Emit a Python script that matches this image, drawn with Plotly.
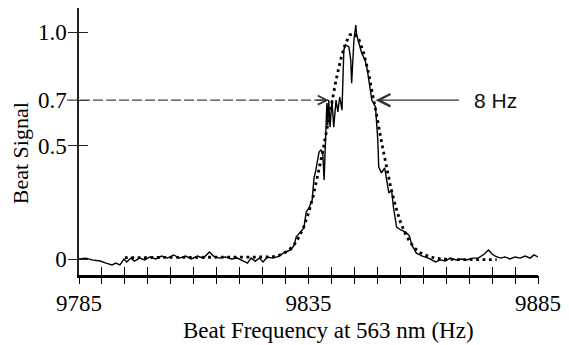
import plotly.graph_objects as go

# ---- data ----
freq_meas = [9785.0, 9786.5, 9787.8, 9789.6, 9790.9, 9792.2, 9793.0, 9793.9, 9794.8, 9795.4,
             9796.3, 9797.1, 9798.2, 9799.3, 9800.4, 9801.7, 9803.0, 9804.3, 9805.6, 9806.9,
             9808.2, 9809.5, 9810.8, 9812.1, 9813.4, 9814.3, 9815.6, 9816.9, 9818.2, 9819.5,
             9820.8, 9821.7, 9822.5, 9823.4, 9824.3, 9825.1, 9826.0, 9827.3, 9828.6, 9829.9,
             9831.2, 9831.9, 9832.3, 9833.2, 9834.0, 9834.5, 9835.1, 9835.8, 9836.2, 9836.6,
             9837.3, 9837.7, 9838.1, 9838.4, 9838.6, 9838.8, 9839.0, 9839.2, 9839.4, 9839.7,
             9840.1, 9840.5, 9841.0, 9841.4, 9841.8, 9842.3, 9842.7, 9843.1, 9843.8, 9844.2,
             9844.4, 9844.9, 9845.3, 9845.5, 9846.0, 9846.6, 9847.3, 9847.7, 9848.3, 9848.8,
             9849.6, 9850.1, 9850.3, 9850.9, 9851.6, 9852.0, 9852.5, 9853.1, 9853.5, 9854.2,
             9855.1, 9856.2, 9857.0, 9857.5, 9858.5, 9859.8, 9861.1, 9862.7, 9863.7, 9864.8,
             9865.9, 9867.2, 9868.3, 9869.4, 9870.7, 9872.0, 9873.3, 9874.2, 9875.0, 9875.7,
             9876.8, 9877.8, 9878.9, 9880.0, 9881.1, 9882.2, 9883.3, 9884.1, 9885.0]
signal_meas = [0.000, 0.004, -0.004, -0.009, -0.018, -0.026, -0.018, -0.026, 0.000, -0.013,
               0.004, -0.009, 0.004, -0.004, 0.009, 0.000, 0.013, 0.004, 0.018, 0.004,
               0.013, 0.000, 0.013, 0.004, 0.031, 0.013, 0.004, 0.009, 0.000, 0.004,
               -0.009, -0.018, 0.004, -0.009, 0.004, -0.013, 0.009, 0.004, 0.013, 0.031,
               0.040, 0.062, 0.097, 0.119, 0.137, 0.207, 0.225, 0.260, 0.357, 0.392,
               0.471, 0.480, 0.471, 0.348, 0.480, 0.524, 0.687, 0.590, 0.700, 0.581,
               0.700, 0.581, 0.700, 0.648, 0.714, 0.656, 0.921, 0.943, 0.934, 0.877,
               0.775, 0.965, 1.031, 0.987, 0.952, 0.907, 0.877, 0.846, 0.767, 0.700,
               0.670, 0.524, 0.405, 0.379, 0.401, 0.357, 0.291, 0.304, 0.229, 0.141,
               0.128, 0.119, 0.101, 0.062, 0.026, 0.013, 0.004, -0.013, -0.004, -0.009,
               0.004, -0.004, 0.000, -0.004, 0.004, 0.004, 0.022, 0.040, 0.022, 0.013,
               0.004, 0.009, 0.000, 0.009, 0.004, 0.013, 0.004, 0.018, 0.009]

freq_fit = [9795, 9797, 9799, 9801, 9803, 9805, 9807, 9809, 9811, 9813, 9815, 9817, 9819,
            9821, 9823, 9825, 9827, 9828, 9829, 9830, 9831, 9832, 9833, 9834, 9835, 9836,
            9837, 9838, 9839, 9840, 9841, 9842, 9843, 9844, 9845, 9846, 9847, 9848, 9849,
            9850, 9851, 9852, 9853, 9854, 9855, 9856, 9857, 9858, 9859, 9860, 9861, 9862,
            9864, 9866, 9868, 9870, 9872, 9874, 9876]
signal_fit = [0.006, 0.006, 0.006, 0.006, 0.006, 0.006, 0.006, 0.006, 0.006, 0.006, 0.006,
              0.006, 0.006, 0.006, 0.006, 0.007, 0.009, 0.013, 0.019, 0.029, 0.045, 0.067,
              0.100, 0.143, 0.202, 0.275, 0.363, 0.463, 0.572, 0.683, 0.788, 0.878, 0.947,
              0.987, 0.993, 0.966, 0.909, 0.827, 0.726, 0.617, 0.506, 0.402, 0.308, 0.229,
              0.165, 0.115, 0.078, 0.051, 0.032, 0.020, 0.012, 0.007, 0.000, -0.003, -0.003,
              -0.003, -0.003, -0.003, -0.003]

x_tick_vals = [9785, 9790, 9795, 9800, 9805, 9810, 9815, 9820, 9825, 9830, 9835,
               9840, 9845, 9850, 9855, 9860, 9865, 9870, 9875, 9880, 9885]
x_tick_text = ["9785", "", "", "", "", "", "", "", "", "", "9835",
               "", "", "", "", "", "", "", "", "", "9885"]
y_tick_vals = [0, 0.5, 0.7, 1.0]
y_tick_text = ["0", "0.5", "0.7", "1.0"]
y_cross_ticks = [0, 0.5, 1.0]

x_range = [9785, 9885]
y_range = [-0.0705, 1.106]

level_07 = 0.7
left_arrow_tip = 9839.4
right_arrow_tip = 9849.6
right_arrow_tail = 9868.1
label_x = 9870.6
label_text = "8 Hz"

serif = "Liberation Serif"
sans = "Liberation Sans"

fig = go.Figure()
fig.add_trace(go.Scatter(x=freq_fit, y=signal_fit, mode="lines",
                         line=dict(color="black", width=2.8, dash="2.8px,3.6px"),
                         hoverinfo="skip", showlegend=False))
fig.add_trace(go.Scatter(x=freq_meas, y=signal_meas, mode="lines",
                         line=dict(color="black", width=1.4),
                         hoverinfo="skip", showlegend=False))
# empty trace to carry the overlay axes (outer half of ticks that cross the axis lines)
fig.add_trace(go.Scatter(x=[], y=[], xaxis="x2", yaxis="y2", showlegend=False))

fig.update_layout(
    width=569, height=345,
    margin=dict(l=79, r=29, t=8, b=70),
    paper_bgcolor="white", plot_bgcolor="white",
    xaxis=dict(range=x_range, showline=True, linewidth=3, linecolor="black",
               ticks="inside", ticklen=8, tickwidth=1.3, tickcolor="black",
               tickvals=x_tick_vals, ticktext=x_tick_text, ticklabelstandoff=5,
               tickfont=dict(family=serif, size=23, color="black"),
               showgrid=False, zeroline=False),
    yaxis=dict(range=y_range, showline=True, linewidth=1.5, linecolor="#222",
               ticks="inside", ticklen=9, tickwidth=1.3, tickcolor="#222",
               tickvals=y_tick_vals, ticktext=y_tick_text, ticklabelstandoff=6,
               tickfont=dict(family=serif, size=23, color="black"),
               showgrid=False, zeroline=False),
    xaxis2=dict(range=x_range, overlaying="x", anchor="y2", side="bottom",
                ticks="outside", ticklen=8, tickwidth=1.3, tickcolor="black",
                tickvals=x_tick_vals, showticklabels=False,
                showline=False, showgrid=False, zeroline=False),
    yaxis2=dict(range=y_range, overlaying="y", anchor="x2", side="left",
                ticks="outside", ticklen=10, tickwidth=1.3, tickcolor="#222",
                tickvals=y_cross_ticks, showticklabels=False,
                showline=False, showgrid=False, zeroline=False),
)

# dashed line at the 0.7 level from the tick label to the left flank
y07_paper = (level_07 - y_range[0]) / (y_range[1] - y_range[0])
tip_paper = (left_arrow_tip - x_range[0]) / (x_range[1] - x_range[0])
fig.add_shape(type="line", xref="paper", yref="paper",
              x0=-0.026, x1=tip_paper, y0=y07_paper, y1=y07_paper,
              line=dict(color="#444", width=1.1, dash="10px,3px"))

fig.add_annotation(x=left_arrow_tip, y=level_07, xref="x", yref="y",
                   ax=-14, ay=0, text="", showarrow=True, arrowhead=5,
                   arrowsize=1.6, arrowwidth=1.1, arrowcolor="#333", standoff=0)
fig.add_annotation(x=right_arrow_tip, y=level_07, xref="x", yref="y",
                   ax=right_arrow_tail, ay=level_07, axref="x", ayref="y",
                   text="", showarrow=True, arrowhead=5,
                   arrowsize=2.2, arrowwidth=1.1, arrowcolor="#333", standoff=0)
fig.add_annotation(x=label_x, y=level_07, xref="x", yref="y", text=label_text,
                   showarrow=False, xanchor="left", yanchor="middle",
                   font=dict(family=sans, size=21, color="#111"))

fig.add_annotation(x=(20 - 79) / 461, y=(275 - 153) / 267, xref="paper", yref="paper",
                   text="Beat Signal", textangle=-90, showarrow=False,
                   xanchor="center", yanchor="middle",
                   font=dict(family=serif, size=22, color="black"))
fig.add_annotation(x=(330 - 79) / 461, y=(275 - 330) / 267, xref="paper", yref="paper",
                   text="Beat Frequency at 563 nm (Hz)", showarrow=False,
                   xanchor="center", yanchor="middle",
                   font=dict(family=serif, size=23, color="black"))

fig.write_html("out.html", config={"displayModeBar": False},
               post_script="document.body.style.margin='0';")
